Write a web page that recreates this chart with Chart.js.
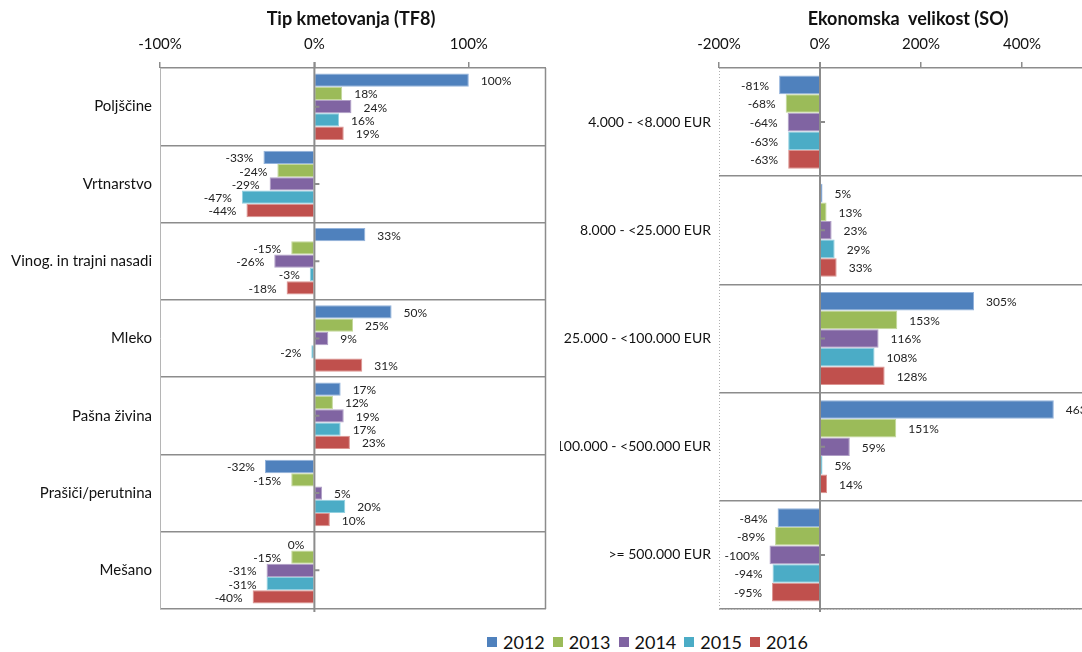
<!DOCTYPE html>
<html>
<head>
<meta charset="utf-8">
<script src="https://cdn.jsdelivr.net/npm/chart.js@4/dist/chart.umd.min.js"></script>
<style>
  html, body { margin: 0; padding: 0; background: #fff; }
  body { width: 1082px; height: 652px; overflow: hidden; position: relative; font-family: Lato, 'Liberation Sans', sans-serif; }
  canvas { position: absolute; top: 0; }
  .title { position: absolute; top: 7px; font-weight: bold; font-size: 18px; color: #111; transform: translateX(-50%); white-space: nowrap; }
  #legend { position: absolute; left: 487px; top: 631px; display: flex; font-size: 18px; color: #111; }
  #legend .item { display: flex; align-items: center; margin-right: 8px; }
  #legend .sw { width: 10px; height: 10px; margin-right: 6px; }
</style>
</head>
<body>
<canvas id="tfChart" width="560" height="620" style="left:0"></canvas>
<canvas id="soChart" width="575" height="620" style="left:560px"></canvas>
<div class="title" style="left:351px">Tip kmetovanja (TF8)</div>
<div class="title" style="left:908px">Ekonomska&nbsp; velikost (SO)</div>
<div id="legend"></div>
<script>
// leta in barve
const years = ['2012', '2013', '2014', '2015', '2016'];
const fills = ['#4f81bd', '#9bbb59', '#8064a2', '#4bacc6', '#c0504d'];
const edges = ['#93b3dc', '#c3d89b', '#b09fc6', '#92d0e0', '#dc9592'];

// Tip kmetovanja (TF8)
const tfLabels = ['Poljščine', 'Vrtnarstvo', 'Vinog. in trajni nasadi', 'Mleko', 'Pašna živina', 'Prašiči/perutnina', 'Mešano'];
const tf2012 = [100, -33, 33, 50, 17, -32, 0];
const tf2013 = [18, -24, -15, 25, 12, -15, -15];
const tf2014 = [24, -29, -26, 9, 19, 5, -31];
const tf2015 = [16, -47, -3, -2, 17, 20, -31];
const tf2016 = [19, -44, -18, 31, 23, 10, -40];

// Ekonomska velikost (SO)
const soLabels = ['4.000 - <8.000 EUR', '8.000 - <25.000 EUR', '25.000 - <100.000 EUR', '100.000 - <500.000 EUR', '>= 500.000 EUR'];
const so2012 = [-81, 5, 305, 463, -84];
const so2013 = [-68, 13, 153, 151, -89];
const so2014 = [-64, 23, 116, 59, -100];
const so2015 = [-63, 29, 108, 5, -94];
const so2016 = [-63, 33, 128, 14, -95];

const tfSeries = [tf2012, tf2013, tf2014, tf2015, tf2016];
const soSeries = [so2012, so2013, so2014, so2015, so2016];

// oznake vrednosti ob koncu stolpcev
const valueLabels = {
    id: 'valueLabels',
    afterDatasetsDraw(chart) {
        const ctx = chart.ctx;
        ctx.save();
        ctx.font = '12px Lato';
        ctx.fillStyle = '#222';
        ctx.textBaseline = 'middle';
        chart.data.datasets.forEach((ds, i) => {
            chart.getDatasetMeta(i).data.forEach((bar, j) => {
                const v = ds.data[j];
                if (v > 0) {
                    ctx.textAlign = 'left';
                    ctx.fillText(v + '%', bar.x + 12, bar.y + 1);
                } else {
                    ctx.textAlign = 'right';
                    ctx.fillText(v + '%', bar.x - 10, bar.y + 1);
                }
            });
        });
        ctx.restore();
    }
};

// okvir, ničelna os in kratke oznake kategorij
const frame = {
    id: 'frame',
    afterDraw(chart, args, opts) {
        const a = chart.chartArea;
        const ctx = chart.ctx;
        const x0 = chart.scales.x.getPixelForValue(0);
        ctx.save();
        ctx.strokeStyle = opts.leftColor;
        ctx.lineWidth = 1;
        if (opts.dotted) ctx.setLineDash([1, 2]);
        ctx.beginPath();
        ctx.moveTo(a.left + 0.5, a.top);
        ctx.lineTo(a.left + 0.5, a.bottom);
        if (opts.dotted) {
            ctx.moveTo(a.left, a.bottom + 0.5);
            ctx.lineTo(a.right, a.bottom + 0.5);
        }
        ctx.stroke();
        ctx.setLineDash([]);
        ctx.strokeStyle = '#8c8c8c';
        ctx.lineWidth = 1.5;
        ctx.beginPath();
        ctx.moveTo(a.right - 0.5, a.top);
        ctx.lineTo(a.right - 0.5, a.bottom);
        ctx.stroke();
        ctx.lineWidth = 2;
        ctx.beginPath();
        ctx.moveTo(x0, a.top - 6);
        ctx.lineTo(x0, a.bottom + 3);
        const ys = chart.scales.y;
        chart.data.labels.forEach((l, i) => {
            const y = ys.getPixelForValue(i);
            ctx.moveTo(x0, y);
            ctx.lineTo(x0 + 5, y);
        });
        ctx.stroke();
        ctx.restore();
    }
};

function makeChart(id, labels, series, min, max, step, yWidth, labelSize, padRight, frameOpts) {
    new Chart(document.getElementById(id), {
        type: 'bar',
        data: {
            labels: labels,
            datasets: series.map((d, i) => ({
                label: years[i],
                data: d,
                backgroundColor: fills[i],
                borderColor: edges[i],
                borderWidth: 1,
                borderSkipped: 'start',
                categoryPercentage: 0.86,
                barPercentage: 1.0
            }))
        },
        options: {
            indexAxis: 'y',
            responsive: false,
            animation: false,
            events: [],
            layout: { padding: { top: 0, right: padRight, bottom: 11, left: 0 } },
            plugins: {
                legend: { display: false },
                tooltip: { enabled: false },
                frame: frameOpts
            },
            scales: {
                x: {
                    position: 'top',
                    min: min, max: max,
                    afterFit: s => { s.height = 68; s.paddingLeft = 0; s.paddingRight = 0; },
                    ticks: {
                        stepSize: step,
                        includeBounds: false,
                        padding: 9,
                        color: '#111',
                        font: { family: 'Lato', size: 15 },
                        callback: v => v + '%'
                    },
                    grid: { drawOnChartArea: false, tickLength: 6, color: '#8c8c8c', lineWidth: 1.5 },
                    border: { display: false }
                },
                y: {
                    afterFit: s => { s.width = yWidth; s.paddingTop = 0; s.paddingBottom = 0; },
                    ticks: { padding: 8, color: '#111', font: { family: 'Lato', size: labelSize } },
                    grid: { color: '#8c8c8c', lineWidth: 1.5, drawTicks: false },
                    border: { display: false }
                }
            }
        },
        plugins: [valueLabels, frame]
    });
}

makeChart('tfChart', tfLabels, tfSeries, -100, 150, 100, 160, 15, 14, { leftColor: '#b5b5b5', dotted: false });
makeChart('soChart', soLabels, soSeries, -200, 600, 200, 159, 14, 12, { leftColor: '#b0b0b0', dotted: true });

// skupna legenda
const legend = document.getElementById('legend');
years.forEach((y, i) => {
    const item = document.createElement('div');
    item.className = 'item';
    item.innerHTML = '<span class="sw" style="background:' + fills[i] + '"></span><span>' + y + '</span>';
    legend.appendChild(item);
});
</script>
</body>
</html>
